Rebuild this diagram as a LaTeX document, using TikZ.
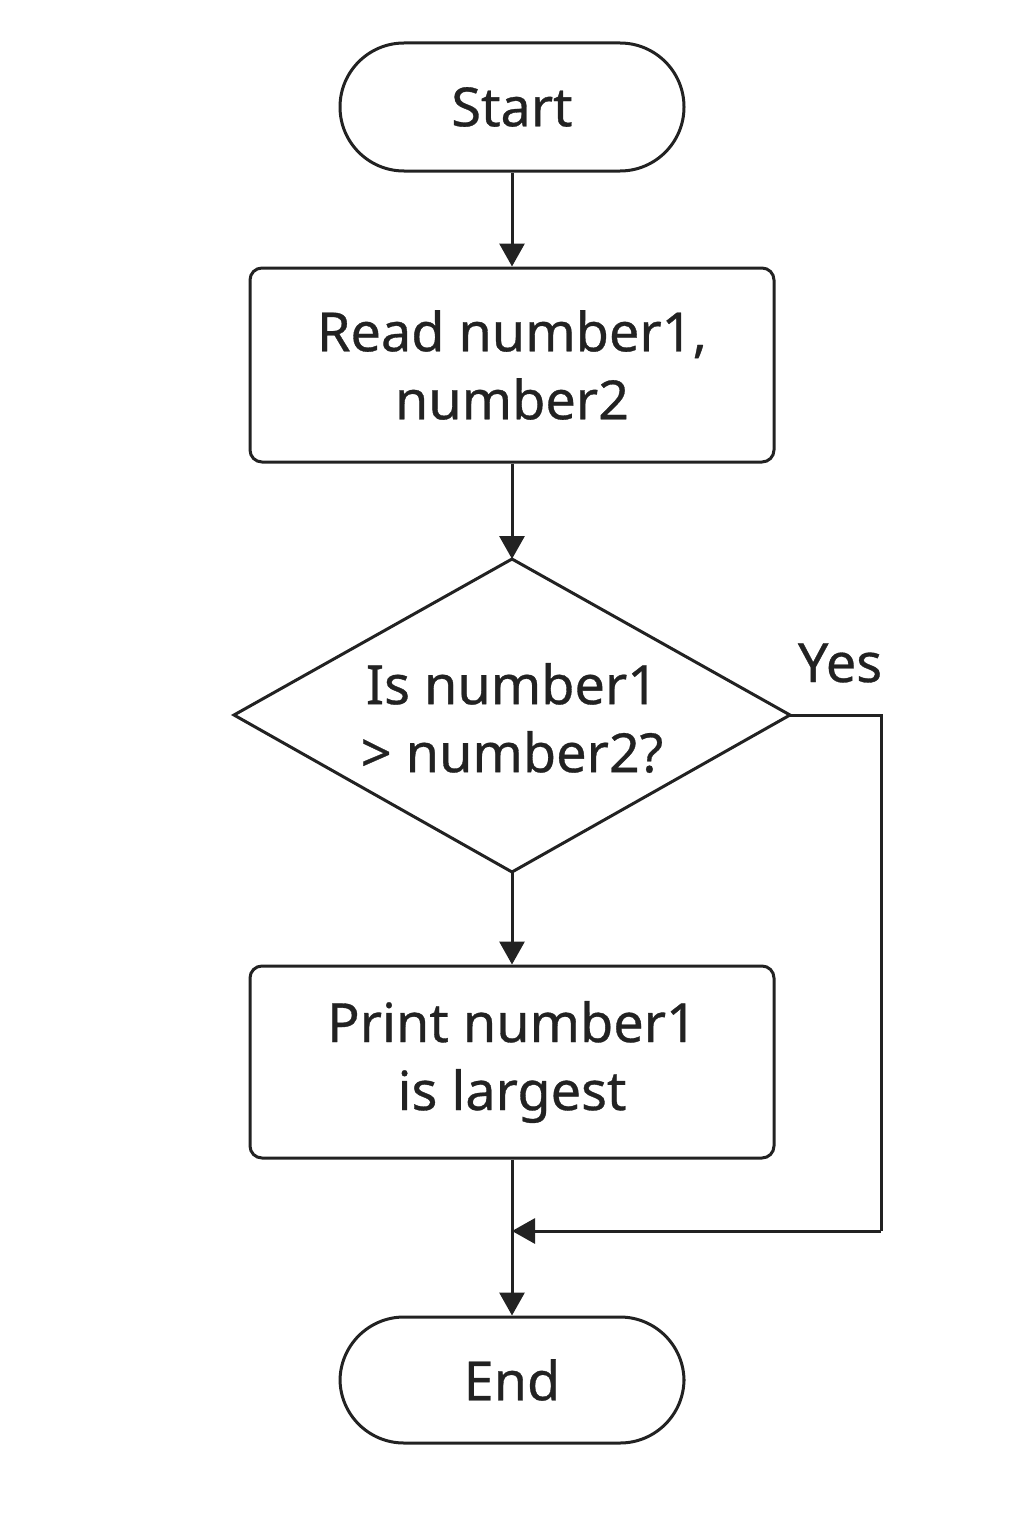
\documentclass[tikz,border=0pt]{standalone}
\usepackage{fontspec}
\setmainfont{Noto Sans}[FakeBold=0.6]
\usetikzlibrary{shapes.geometric,arrows.meta}
\definecolor{ink}{HTML}{222222}
\begin{document}
\begin{tikzpicture}[x=1pt,y=-1pt,
  every node/.style={text=ink,font=\fontsize{54}{68}\selectfont\bfseries},
  term/.style={draw=ink,line width=3pt,rounded corners=64pt,minimum width=344pt,minimum height=128pt,inner sep=0pt},
  procbox/.style={draw=ink,line width=3pt,rounded corners=12pt,minimum width=524pt,minimum height=194pt,align=center,inner sep=0pt},
  flow/.style={draw=ink,line width=3pt,-{Triangle[length=23pt,width=25pt]}},
  plain/.style={draw=ink,line width=3pt}]
\useasboundingbox (0,0) rectangle (1024,1536);
\node[term] (start) at (512,107) {Start};
\node[procbox] (read) at (512,365) {Read number1,\\number2};
\coordinate (dt) at (512,559);
\coordinate (dl) at (234,715);
\coordinate (dr) at (790,715);
\coordinate (db) at (512,872);
\draw[draw=ink,line width=3pt,line join=miter] (dt) -- (dr) -- (db) -- (dl) -- cycle;
\node[align=center] (dec) at (512,718) {Is number1\\> number2?};
\node[procbox,minimum height=192pt] (print) at (512,1062) {\raisebox{-5pt}{\parbox{500pt}{\centering Print number1\\is largest}}};
\node[term,minimum height=126pt] (end) at (512,1380) {End};
\node (yes) at (840,663) {Yes};
\coordinate (c1) at (881,715);
\coordinate (c2) at (881,1231);
\coordinate (m) at (512,1231);
\draw[flow] (start) -- (read);
\draw[flow] (read) -- (dt);
\draw[flow] (db) -- (print);
\draw[flow] (print) -- (end);
\draw[plain] (dr) -- (c1) -- (c2);
\draw[flow] (c2) -- (m);
\end{tikzpicture}
\end{document}
